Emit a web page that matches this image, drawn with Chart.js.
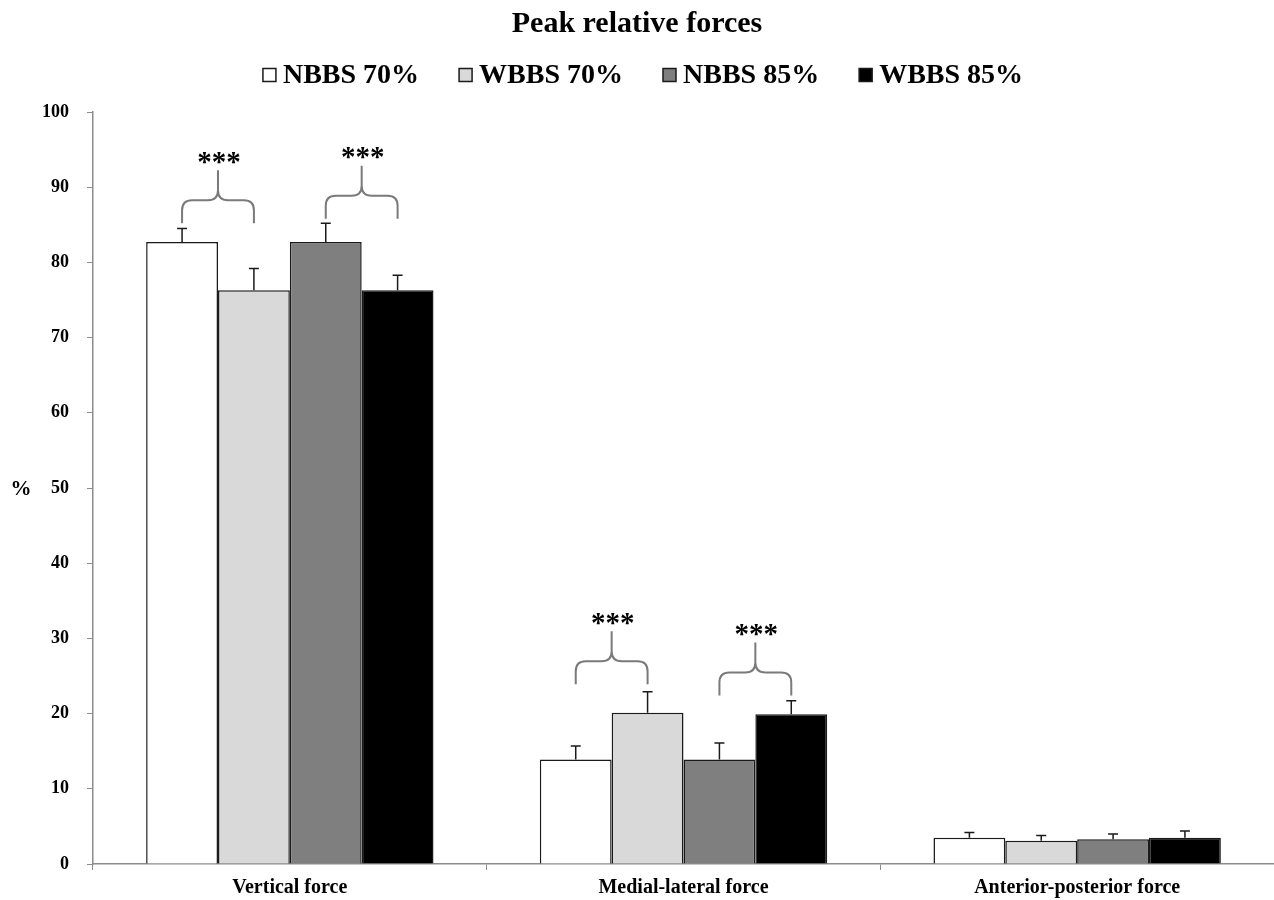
<!DOCTYPE html>
<html>
<head>
<meta charset="utf-8">
<script src="https://cdn.jsdelivr.net/npm/chart.js@4.4.1/dist/chart.umd.min.js"></script>
<style>
  html, body { margin: 0; padding: 0; background: #ffffff; }
  canvas { display: block; }
</style>
</head>
<body>
<canvas id="chart" width="1274" height="900"></canvas>
<script>
// Peak relative forces (% of body weight), mean with upward SD bars
const categories = ['Vertical force', 'Medial-lateral force', 'Anterior-posterior force'];
const seriesNames = ['NBBS 70%', 'WBBS 70%', 'NBBS 85%', 'WBBS 85%'];
const seriesColors = ['#ffffff', '#d9d9d9', '#7f7f7f', '#000000'];

const nbbs70 = [82.7, 13.9, 3.5];
const wbbs70 = [76.3, 20.1, 3.1];
const nbbs85 = [82.7, 13.9, 3.3];
const wbbs85 = [76.3, 19.9, 3.5];

const nbbs70Sd = [1.8, 1.8, 0.7];
const wbbs70Sd = [2.9, 2.8, 0.7];
const nbbs85Sd = [2.5, 2.2, 0.7];
const wbbs85Sd = [2.0, 1.8, 0.9];

const yTickValues = [0, 10, 20, 30, 40, 50, 60, 70, 80, 90, 100];

// Significance brackets: category index, first bar, second bar, level of bracket feet (%)
const bracketCategory = [0, 0, 1, 1];
const bracketFrom = [0, 2, 0, 2];
const bracketTo = [1, 3, 1, 3];
const bracketBase = [85.2, 85.8, 23.9, 22.4];
const bracketLabel = ['***', '***', '***', '***'];

const SERIF = '"Liberation Serif", "Times New Roman", serif';

const seriesValues = [nbbs70, wbbs70, nbbs85, wbbs85];
const seriesErrors = [nbbs70Sd, wbbs70Sd, nbbs85Sd, wbbs85Sd];

const datasets = seriesNames.map((name, i) => ({
  label: name,
  data: seriesValues[i],
  errors: seriesErrors[i],
  backgroundColor: seriesColors[i],
  borderColor: '#1a1a1a',
  borderWidth: 1.5,
  borderSkipped: 'bottom',
  categoryPercentage: 0.73,
  barPercentage: 1.0
}));

// upward error bars with caps
const errorBars = {
  id: 'errorBars',
  afterDatasetsDraw(chart) {
    const ctx = chart.ctx;
    const y = chart.scales.y;
    ctx.save();
    ctx.strokeStyle = '#1a1a1a';
    ctx.lineWidth = 1.5;
    chart.data.datasets.forEach((ds, i) => {
      const meta = chart.getDatasetMeta(i);
      meta.data.forEach((bar, j) => {
        const top = y.getPixelForValue(ds.data[j] + ds.errors[j]);
        ctx.beginPath();
        ctx.moveTo(bar.x, bar.y);
        ctx.lineTo(bar.x, top);
        ctx.moveTo(bar.x - 5, top);
        ctx.lineTo(bar.x + 5, top);
        ctx.stroke();
      });
    });
    ctx.restore();
  }
};

// curly significance brackets with asterisks
const sigBrackets = {
  id: 'sigBrackets',
  afterDatasetsDraw(chart) {
    const ctx = chart.ctx;
    const y = chart.scales.y;
    ctx.save();
    ctx.strokeStyle = '#7a7a7a';
    ctx.lineWidth = 2;
    ctx.lineJoin = 'round';
    bracketCategory.forEach((c, k) => {
      const x1 = chart.getDatasetMeta(bracketFrom[k]).data[c].x;
      const x2 = chart.getDatasetMeta(bracketTo[k]).data[c].x;
      const xm = (x1 + x2) / 2;
      const yFeet = y.getPixelForValue(bracketBase[k]);
      const yH = yFeet - 23;
      const yPeak = yH - 30;
      const r = 10;
      ctx.beginPath();
      ctx.moveTo(x1, yFeet);
      ctx.lineTo(x1, yH + r);
      ctx.quadraticCurveTo(x1, yH, x1 + r, yH);
      ctx.lineTo(xm - r, yH);
      ctx.quadraticCurveTo(xm, yH, xm, yH - r);
      ctx.lineTo(xm, yPeak);
      ctx.moveTo(xm, yH - r);
      ctx.quadraticCurveTo(xm, yH, xm + r, yH);
      ctx.lineTo(x2 - r, yH);
      ctx.quadraticCurveTo(x2, yH, x2, yH + r);
      ctx.lineTo(x2, yFeet);
      ctx.stroke();
      ctx.fillStyle = '#000000';
      ctx.font = 'bold 29px ' + SERIF;
      ctx.textAlign = 'center';
      ctx.textBaseline = 'middle';
      ctx.fillText(bracketLabel[k], xm + 1, yPeak - 7);
    });
    ctx.restore();
  }
};

// legend row: small framed swatch followed by the series name
const legendRow = {
  id: 'legendRow',
  afterDraw(chart) {
    const ctx = chart.ctx;
    const box = 13, gapText = 7, gapItem = 40, yMid = 75;
    ctx.save();
    ctx.font = 'bold 28px ' + SERIF;
    ctx.textBaseline = 'middle';
    ctx.textAlign = 'left';
    const items = chart.data.datasets.map(ds => ({
      text: ds.label, color: ds.backgroundColor, w: ctx.measureText(ds.label).width
    }));
    const total = items.reduce((s, it) => s + box + gapText + it.w, 0) + gapItem * (items.length - 1);
    let x = chart.width / 2 + 6 - total / 2;
    items.forEach(it => {
      ctx.fillStyle = it.color;
      ctx.fillRect(x, yMid - box / 2, box, box);
      ctx.strokeStyle = '#1a1a1a';
      ctx.lineWidth = 1.5;
      ctx.strokeRect(x, yMid - box / 2, box, box);
      ctx.fillStyle = '#000000';
      ctx.fillText(it.text, x + box + gapText, yMid + 1);
      x += box + gapText + it.w + gapItem;
    });
    ctx.restore();
  }
};

// horizontal "%" unit label beside the value axis
const unitLabel = {
  id: 'unitLabel',
  afterDraw(chart) {
    const ctx = chart.ctx;
    const y = chart.scales.y;
    ctx.save();
    ctx.fillStyle = '#000000';
    ctx.font = 'bold 21px ' + SERIF;
    ctx.textAlign = 'center';
    ctx.textBaseline = 'middle';
    ctx.fillText('%', 21, y.getPixelForValue(50) + 2);
    ctx.restore();
  }
};

new Chart(document.getElementById('chart'), {
  type: 'bar',
  data: { labels: categories, datasets: datasets },
  options: {
    responsive: false,
    devicePixelRatio: 1,
    animation: false,
    layout: { padding: { left: 0, right: 0, top: 0, bottom: 0 } },
    plugins: {
      title: {
        display: true,
        text: 'Peak relative forces',
        color: '#000000',
        font: { family: SERIF, size: 30, weight: 'bold' },
        padding: { top: 6, bottom: 70 }
      },
      legend: { display: false },
      tooltip: { enabled: false }
    },
    scales: {
      x: {
        grid: {
          display: true,
          offset: true,
          drawOnChartArea: false,
          drawTicks: true,
          tickLength: 6,
          color: '#8c8c8c'
        },
        border: { display: true, color: '#8c8c8c', width: 1.5 },
        ticks: {
          color: '#000000',
          font: { family: SERIF, size: 20, weight: 'bold' },
          padding: 6
        },
        afterFit(scale) { scale.height = 36; }
      },
      y: {
        min: 0,
        max: 100,
        afterBuildTicks(scale) { scale.ticks = yTickValues.map(v => ({ value: v })); },
        grid: {
          display: true,
          drawOnChartArea: false,
          drawTicks: true,
          tickLength: 6,
          color: '#8c8c8c'
        },
        border: { display: true, color: '#8c8c8c', width: 1.5 },
        ticks: {
          color: '#000000',
          font: { family: SERIF, size: 18, weight: 'bold' },
          padding: 18
        },
        afterFit(scale) { scale.width = 93; }
      }
    }
  },
  plugins: [errorBars, sigBrackets, legendRow, unitLabel]
});
</script>
</body>
</html>
